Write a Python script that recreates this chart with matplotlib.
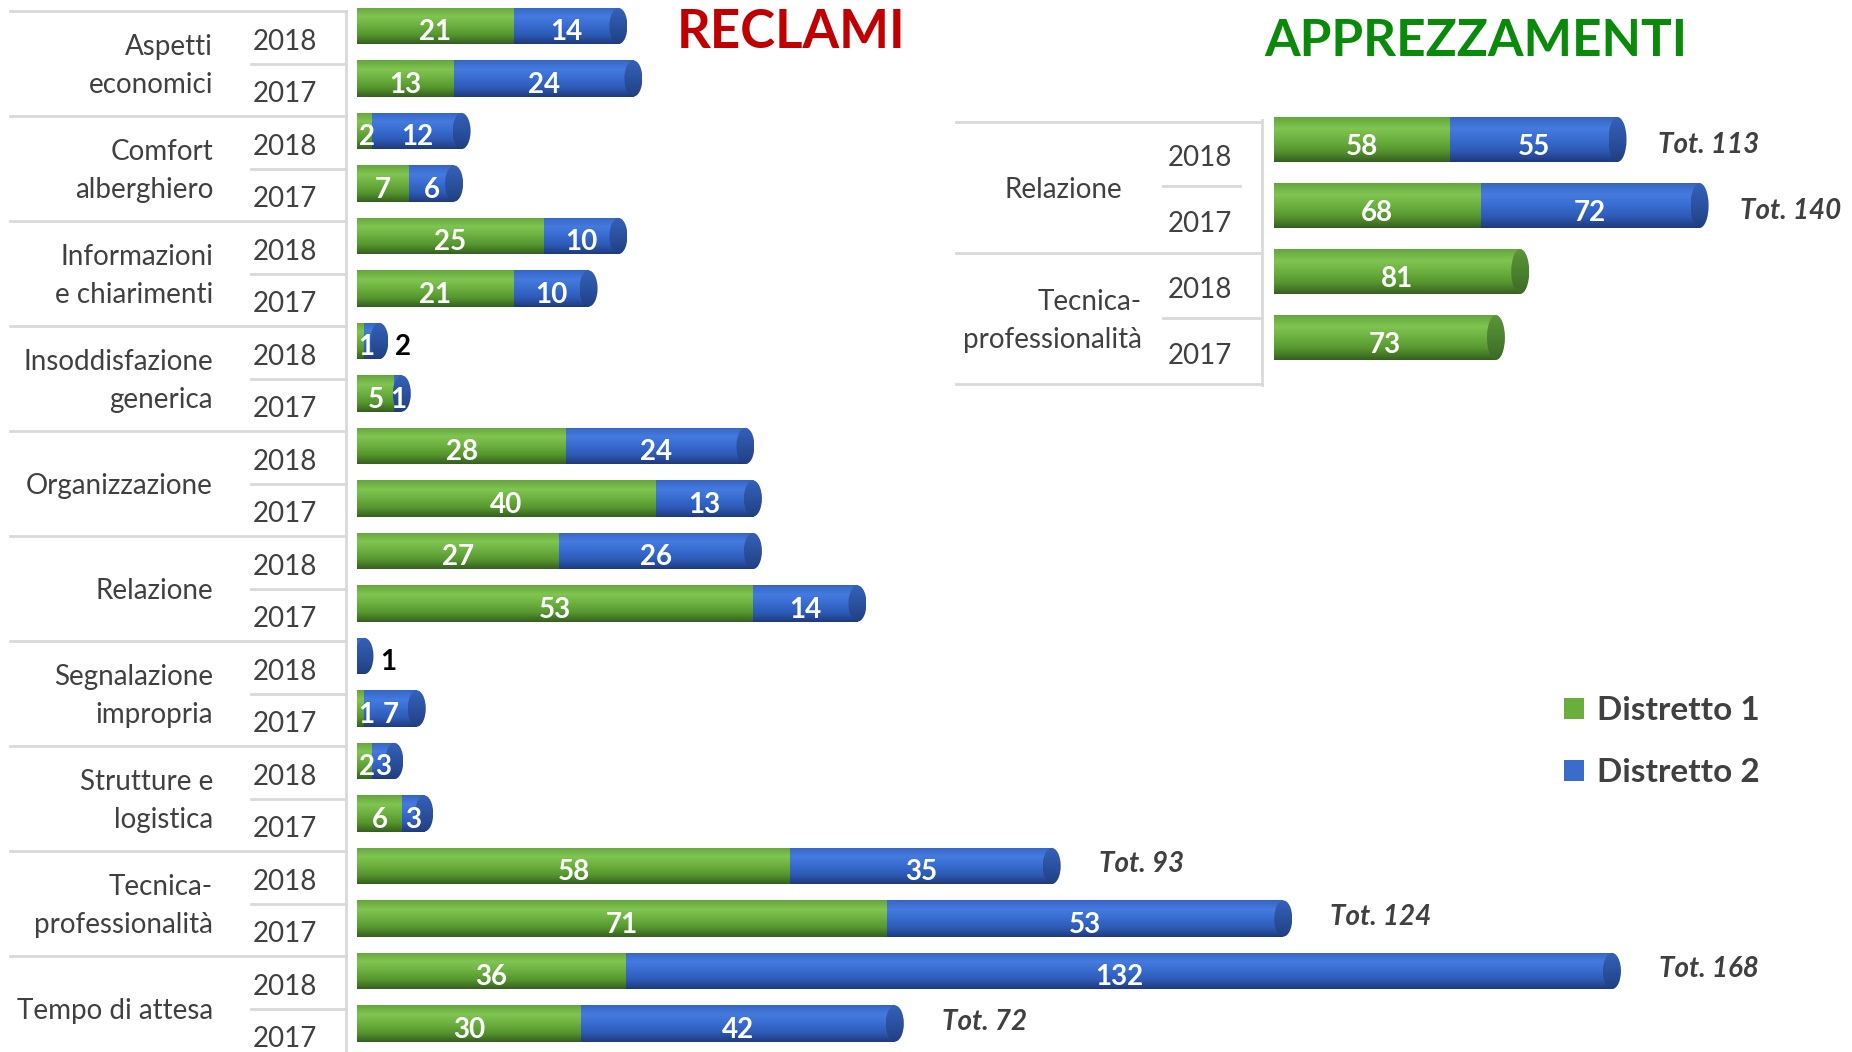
import numpy as np
import matplotlib
matplotlib.use("Agg")
import matplotlib.pyplot as plt
from matplotlib import transforms
from matplotlib.colors import LinearSegmentedColormap
from matplotlib.patches import Rectangle, Ellipse, Patch

plt.rcParams['font.family'] = ['Lato', 'DejaVu Sans']

# RECLAMI (main chart), rows top to bottom: each category has 2018 then 2017
categories = ["Aspetti\neconomici", "Comfort\nalberghiero", "Informazioni\ne chiarimenti",
              "Insoddisfazione\ngenerica", "Organizzazione", "Relazione",
              "Segnalazione\nimpropria", "Strutture e\nlogistica",
              "Tecnica-\nprofessionalità", "Tempo di attesa"]
years = ["2018", "2017"]
d1_reclami = [21, 13, 2, 7, 25, 21, 1, 5, 28, 40, 27, 53, 0, 1, 2, 6, 58, 71, 36, 30]
d2_reclami = [14, 24, 12, 6, 10, 10, 2, 1, 24, 13, 26, 14, 1, 7, 3, 3, 35, 53, 132, 42]
tot_rows_reclami = [16, 17, 18, 19]
outside_rows_reclami = [6, 12]   # Distretto 2 label drawn outside the bar

# APPREZZAMENTI (inset chart)
app_categories = ["Relazione", "Tecnica-\nprofessionalità"]
d1_app = [58, 68, 81, 73]
d2_app = [55, 72, 0, 0]
tot_rows_app = [0, 1]

series_names = ["Distretto 1", "Distretto 2"]

W, H = 1852, 1052
TXT = '#404040'
LINE = '#D9D9D9'

GREEN = LinearSegmentedColormap.from_list('g', ['#64a63c', '#80c452', '#6cb040', '#56962e', '#355f20'])
BLUE = LinearSegmentedColormap.from_list('b', ['#3566c6', '#457ade', '#386cd0', '#2d5ab5', '#1f3a7c'])
GREEN_CAP = LinearSegmentedColormap.from_list('gc', ['#5a9636', '#4b8230', '#3c6a25'])
BLUE_CAP = LinearSegmentedColormap.from_list('bc', ['#3461b8', '#2b52a0', '#213f80'])
grad = np.linspace(0, 1, 128).reshape(-1, 1)


def fx(px):
    return px / W


def shaded(ax, patch, cmap, x0, x1, y, h, z):
    ax.add_patch(patch)
    im = ax.imshow(grad, cmap=cmap, extent=(x0, x1, y + h / 2, y - h / 2),
                   aspect='auto', interpolation='bilinear', zorder=z)
    im.set_clip_path(patch)


def cylinder(ax, y, v1, v2, h, cap_w):
    total = v1 + v2
    first = GREEN if v1 > 0 else BLUE
    left_end = Ellipse((0, y), cap_w * 0.45, h, fc='none', ec='none')
    shaded(ax, left_end, first, -cap_w * 0.25, cap_w * 0.25, y, h, 1.5)
    left = 0
    for v, cmap in [(v1, GREEN), (v2, BLUE)]:
        if v <= 0:
            continue
        rect = Rectangle((left, y - h / 2), v, h, fc='none', ec='none')
        shaded(ax, rect, cmap, left, left + v, y, h, 2)
        left += v
    cap_cmap = BLUE_CAP if v2 > 0 else GREEN_CAP
    cap = Ellipse((total, y), cap_w, h, fc='none', ec='none')
    shaded(ax, cap, cap_cmap, total - cap_w / 2, total + cap_w / 2, y, h, 3)


fig = plt.figure(figsize=(W / 100, H / 100), dpi=100)
fig.patch.set_facecolor('white')

# ---------------- main chart ----------------
ax = fig.add_axes([fx(357), 0, fx(W - 357), 1])
ax.axis('off')
px_main = 7.47          # pixels per unit
row_px = 52.5
bar_h = 0.69
cap_main = 18 / px_main
label_kw = dict(color='white', fontsize=20, fontweight='bold', ha='center', va='center', zorder=5)
tot_kw = dict(textcoords='offset pixels', ha='left', va='center', fontsize=20,
              fontweight='bold', style='italic', color=TXT)

for i, (v1, v2) in enumerate(zip(d1_reclami, d2_reclami)):
    cylinder(ax, i, v1, v2, bar_h, cap_main)
    if v1 > 0:
        ax.text(max(v1 / 2, 1.3), i + 0.12, str(v1), **label_kw)
    if v2 > 0:
        if i in outside_rows_reclami:
            ax.text(v1 + v2 + cap_main / 2 + 0.9, i + 0.12, str(v2), color='black',
                    fontsize=20, fontweight='bold', ha='left', va='center')
        else:
            ax.text(v1 + v2 / 2, i + 0.12, str(v2), **label_kw)
    if i in tot_rows_reclami:
        ax.annotate(f"Tot. {v1 + v2}", xy=(v1 + v2, i - 0.03), xytext=(47, 0), **tot_kw)

ax.set_xlim(0, (W - 357) / px_main)
ax.set_ylim((H - 26) / row_px, -26 / row_px)

blend = transforms.blended_transform_factory(fig.transFigure, ax.transData)
off = 0.22
for k, cat in enumerate(categories):
    ax.text(fx(213), 2 * k + 0.5 + off + 0.04, cat, transform=blend, ha='right', va='center',
            fontsize=20, color=TXT, linespacing=1.55)
    for j, yr in enumerate(years):
        ax.text(fx(285), 2 * k + j + 0.3, yr, transform=blend, ha='center', va='center',
                fontsize=20, color=TXT)
    ax.plot([fx(10), fx(346)], [2 * k - 0.5 + off] * 2, transform=blend, color=LINE,
            lw=2, clip_on=False)
    ax.plot([fx(251), fx(346)], [2 * k + 0.5 + off] * 2, transform=blend, color=LINE,
            lw=2, clip_on=False)
ax.plot([fx(346), fx(346)], [-0.5 + off, 20], transform=blend, color=LINE, lw=2, clip_on=False)

# ---------------- inset chart ----------------
ins_top, ins_bot = 100, 420
ax2 = fig.add_axes([fx(1274), 1 - ins_bot / H, fx(W - 1274), (ins_bot - ins_top) / H])
ax2.axis('off')
ax2.patch.set_alpha(0)
px_app = 3.04
row_app = 66
cap_app = 18 / px_app
for i, (v1, v2) in enumerate(zip(d1_app, d2_app)):
    cylinder(ax2, i, v1, v2, 0.68, cap_app)
    if v1 > 0:
        ax2.text(v1 / 2, i + 0.11, str(v1), **label_kw)
    if v2 > 0:
        ax2.text(v1 + v2 / 2, i + 0.11, str(v2), **label_kw)
    if i in tot_rows_app:
        ax2.annotate(f"Tot. {v1 + v2}", xy=(v1 + v2, i + 0.08), xytext=(40, 0), **tot_kw)
ax2.set_xlim(0, (W - 1274) / px_app)
ax2.set_ylim((ins_bot - 139.5) / row_app, (ins_top - 139.5) / row_app)

blend2 = transforms.blended_transform_factory(fig.transFigure, ax2.transData)
ax2.text(fx(1122), 0.77, app_categories[0], transform=blend2, ha='right', va='center',
         fontsize=20, color=TXT)
ax2.text(fx(1142), 2.75, app_categories[1], transform=blend2, ha='right', va='center',
         fontsize=20, color=TXT, linespacing=1.55)
for k in range(2):
    for j, yr in enumerate(years):
        ax2.text(fx(1200), 2 * k + j + 0.28, yr, transform=blend2, ha='center', va='center',
                 fontsize=20, color=TXT)
    ax2.plot([fx(1163), fx(1240 + 22 * k)], [2 * k + 0.71] * 2, transform=blend2,
             color=LINE, lw=2, clip_on=False)
for yl in [-0.27, 1.72, 3.70]:
    ax2.plot([fx(956), fx(1262)], [yl, yl], transform=blend2, color=LINE, lw=2, clip_on=False)
ax2.plot([fx(1262), fx(1262)], [-0.3, 3.72], transform=blend2, color=LINE, lw=2, clip_on=False)

# ---------------- titles & legend ----------------
fig.text(fx(791), 1 - 32 / H, "RECLAMI", color='#C00000', fontsize=38, fontweight='bold',
         ha='center', va='center')
fig.text(fx(1476), 1 - 42 / H, "APPREZZAMENTI", color='#0A8A0A', fontsize=37,
         fontweight='bold', ha='center', va='center')

handles = [Patch(facecolor='#6AAE3E', label=series_names[0]),
           Patch(facecolor='#3C6CCB', label=series_names[1])]
fig.legend(handles=handles, loc='upper left', bbox_to_anchor=(fx(1564), 1 - 696 / H),
           frameon=False, prop=dict(size=24, weight='bold'), labelcolor=TXT,
           handlelength=0.6, handleheight=0.6, handletextpad=0.4, labelspacing=1.0,
           borderpad=0, borderaxespad=0)

fig.savefig('out.png', dpi=100, facecolor='white')
